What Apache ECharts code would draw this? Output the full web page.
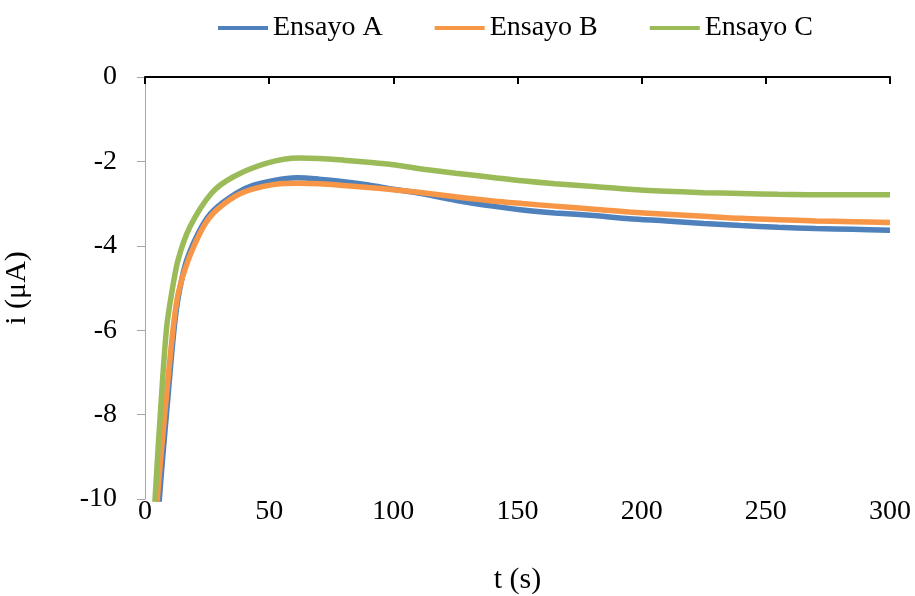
<!DOCTYPE html>
<html>
<head>
<meta charset="utf-8">
<script src="https://cdn.jsdelivr.net/npm/echarts@6/dist/echarts.min.js"></script>
<style>html,body{margin:0;padding:0;background:#fff}#c{width:915px;height:596px}</style>
</head>
<body>
<div id="c"></div>
<script>
const xTicks = [0, 50, 100, 150, 200, 250, 300];
const yTicks = [0, -2, -4, -6, -8, -10];

const tA = [5.0, 5.76, 9.38, 11.8, 13.7, 16.8, 22.8, 27.8, 36.9, 43.5, 52, 61, 70, 80, 90, 100, 110, 125, 140, 152, 165, 182, 195, 210, 225, 240, 255, 270, 285, 300];
const iA = [-11, -10.02, -7.49, -5.92, -5.12, -4.34, -3.55, -3.15, -2.75, -2.57, -2.45, -2.39, -2.42, -2.48, -2.56, -2.66, -2.75, -2.92, -3.06, -3.15, -3.22, -3.29, -3.36, -3.41, -3.47, -3.52, -3.56, -3.59, -3.61, -3.63];

const tB = [4.3, 4.95, 8.74, 11.4, 13.4, 17.4, 23.5, 28.9, 38.9, 51.5, 62, 70, 80, 90, 100, 110, 125, 140, 152, 165, 182, 195, 210, 225, 240, 255, 270, 285, 300];
const iB = [-11, -10.02, -7.49, -5.92, -5.12, -4.34, -3.55, -3.15, -2.75, -2.55, -2.52, -2.53, -2.57, -2.62, -2.67, -2.73, -2.84, -2.94, -3.00, -3.06, -3.14, -3.20, -3.25, -3.30, -3.35, -3.38, -3.41, -3.43, -3.45];

const tC = [3.4, 4.03, 6.72, 8.74, 10.75, 13.29, 18.12, 26.86, 35.44, 49.1, 62, 70, 80, 90, 100, 110, 125, 140, 152, 165, 182, 195, 210, 225, 240, 255, 270, 285, 300];
const iC = [-11, -10.02, -7.49, -5.92, -5.12, -4.34, -3.55, -2.75, -2.37, -2.04, -1.92, -1.93, -1.97, -2.02, -2.08, -2.17, -2.28, -2.38, -2.46, -2.53, -2.60, -2.66, -2.71, -2.74, -2.76, -2.78, -2.79, -2.79, -2.79];

const names = ['Ensayo A', 'Ensayo B', 'Ensayo C'];
const colors = ['#4F81BD', '#F79646', '#9BBB59'];

const zip = (t, v) => t.map((x, k) => [x, v[k]]);
const FONT = 'Liberation Serif';

const chart = echarts.init(document.getElementById('c'), null, {renderer: 'canvas'});
chart.setOption({
  animation: false,
  backgroundColor: '#ffffff',
  textStyle: {fontFamily: FONT},
  grid: {left: 145, right: 25, top: 77, bottom: 97, containLabel: false, outerBoundsMode: 'none'},
  legend: {
    top: 9, left: 213,
    icon: 'rect', itemWidth: 50, itemHeight: 4, itemGap: 52,
    textStyle: {fontFamily: FONT, fontSize: 28, color: '#000'},
    data: names
  },
  xAxis: [
    {
      type: 'value', position: 'bottom', min: 0, max: 300, interval: 50,
      name: 't (s)', nameLocation: 'middle', nameGap: 66,
      nameTextStyle: {fontFamily: FONT, fontSize: 30, color: '#000'},
      axisLine: {show: false}, axisTick: {show: false}, splitLine: {show: false},
      axisLabel: {fontFamily: FONT, fontSize: 28, color: '#000', margin: -1,
        formatter: v => xTicks.includes(v) ? String(v) : ''}
    },
    {
      type: 'value', position: 'top', min: 0, max: 300, interval: 50,
      axisLine: {show: true, lineStyle: {color: '#000', width: 2}},
      axisTick: {show: true, inside: true, length: 7, lineStyle: {color: '#000', width: 2}},
      axisLabel: {show: false}, splitLine: {show: false}
    }
  ],
  yAxis: {
    type: 'value', min: -10, max: 0, interval: 2,
    name: 'i (μA)', nameLocation: 'middle', nameGap: 113,
    nameTextStyle: {fontFamily: FONT, fontSize: 30, color: '#000'},
    axisLine: {show: true, lineStyle: {color: '#A6A6A6'}},
    axisTick: {show: true, length: 8, lineStyle: {color: '#A6A6A6'}},
    splitLine: {show: false},
    axisLabel: {fontFamily: FONT, fontSize: 28, color: '#000', margin: 28,
      formatter: v => yTicks.includes(v) ? String(v) : ''}
  },
  series: [
    {name: names[0], data: zip(tA, iA)},
    {name: names[1], data: zip(tB, iB)},
    {name: names[2], data: zip(tC, iC)}
  ].map((s, k) => ({
    name: s.name, type: 'line', data: s.data, xAxisIndex: 0,
    showSymbol: false, symbol: 'none', smooth: 0.3,
    clip: true,
    lineStyle: {color: colors[k], width: 5.5},
    itemStyle: {color: colors[k]}
  }))
});
</script>
</body>
</html>
